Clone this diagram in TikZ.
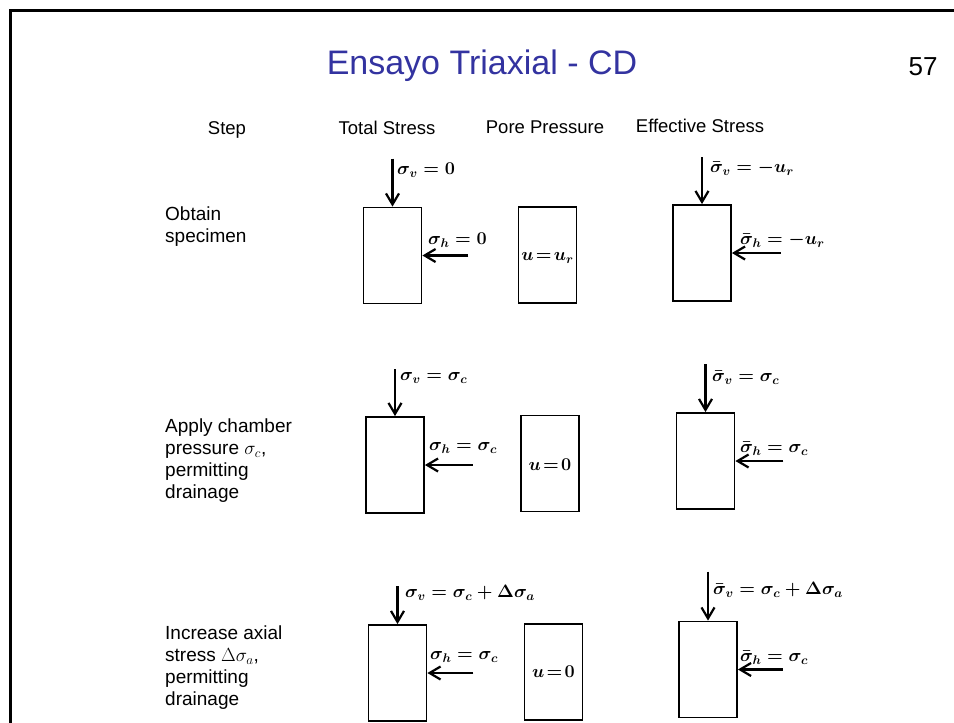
\documentclass[tikz,border=0pt]{standalone}
\usepackage{fix-cm}
\usepackage{amsmath,amssymb}
\usepackage{fontspec}
\setmainfont{Liberation Sans}
\usetikzlibrary{arrows.meta,positioning}
\definecolor{slideblue}{RGB}{51,51,160}

\begin{document}
\begin{tikzpicture}[x=1pt,y=-1pt,
    sample/.style={draw, line width=1.8pt, minimum width=58pt, minimum height=96pt, inner sep=0pt},
    load/.style={line width=2.2pt, -{Straight Barb[length=11pt,width=13pt,line width=2.2pt]}},
    lbl/.style={anchor=west, inner sep=0pt, font=\fontsize{18}{20}\selectfont\boldmath},
    porelbl/.style={inner sep=0pt, font=\fontsize{18}{20}\selectfont\boldmath},
    colhead/.style={font=\fontsize{18.5}{20}\selectfont},
    steptext/.style={anchor=north west, align=left, inner sep=0pt, font=\fontsize{19}{21.7}\selectfont}]
  \useasboundingbox (0,0) rectangle (954,723);
  % slide frame
  \draw[line width=3pt] (10,723) -- (10,10) -- (954,10);
  \node[text=slideblue, font=\fontsize{34}{36}\selectfont] (title) at (482,66) {Ensayo Triaxial - CD};
  \node[font=\fontsize{26}{28}\selectfont] (pagenum) at (923,67) {57};

  % column heads
  \node[colhead] (hstep) at (227,130) {Step};
  \node[colhead] (htotal) at (387,128) {Total Stress};
  \node[colhead] (hpore) at (545,127) {Pore Pressure};
  \node[colhead] (heff) at (700,126) {Effective Stress};

  % Obtain specimen
  \node[steptext] (s1) at (165,207) {Obtain\\specimen};
  \node[sample] (t1) at (392.5,255.5) {};
  \node[sample] (p1) at (547.5,255) {};
  \node[sample] (e1) at (702,253) {};
  \draw[load] ([yshift=48pt]t1.north) -- (t1.north);
  \draw[load] ([xshift=46pt]t1.east) -- (t1.east);
  \draw[load] ([yshift=47pt]e1.north) -- (e1.north);
  \draw[load] ([xshift=49pt]e1.east) -- (e1.east);
  \node[lbl] (t1v) at (397,170) {$\sigma_v = 0$};
  \node[lbl] (t1h) at (428,240) {$\sigma_h = 0$};
  \node[porelbl] (p1u) at (547.5,258) {$u\!=\!u_r$};
  \node[lbl] (e1v) at (710,168) {$\bar{\sigma}_v = -u_r$};
  \node[lbl] (e1h) at (740,240) {$\bar{\sigma}_h = -u_r$};

  % Apply chamber pressure
  \node[steptext] (s2) at (165,419) {Apply chamber\\pressure $\sigma_c$,\\permitting\\drainage};
  \node[sample] (t2) at (395,465) {};
  \node[sample] (p2) at (550,463.5) {};
  \node[sample] (e2) at (705.5,461) {};
  \draw[load] ([yshift=47pt]t2.north) -- (t2.north);
  \draw[load] ([xshift=48pt]t2.east) -- (t2.east);
  \draw[load] ([yshift=48pt]e2.north) -- (e2.north);
  \draw[load] ([xshift=48pt]e2.east) -- (e2.east);
  \node[lbl] (t2v) at (400,378) {$\sigma_v = \sigma_c$};
  \node[lbl] (t2h) at (429,448) {$\sigma_h = \sigma_c$};
  \node[porelbl] (p2u) at (550,465) {$u\!=\!0$};
  \node[lbl] (e2v) at (712,378) {$\bar{\sigma}_v = \sigma_c$};
  \node[lbl] (e2h) at (740,449) {$\bar{\sigma}_h = \sigma_c$};

  % Increase axial stress
  \node[steptext] (s3) at (165,626) {Increase axial\\stress $\Delta\sigma_a$,\\permitting\\drainage};
  \node[sample] (t3) at (397.5,673) {};
  \node[sample] (p3) at (553.5,672) {};
  \node[sample] (e3) at (708,669.5) {};
  \draw[load] ([yshift=38pt]t3.north) -- (t3.north);
  \draw[load] ([xshift=46pt]t3.east) -- (t3.east);
  \draw[load] ([yshift=49pt]e3.north) -- (e3.north);
  \draw[load] ([xshift=45pt]e3.east) -- (e3.east);
  \node[lbl] (t3v) at (405,593) {$\sigma_v = \sigma_c + \Delta\sigma_a$};
  \node[lbl] (t3h) at (430,657) {$\sigma_h = \sigma_c$};
  \node[porelbl] (p3u) at (553.5,672) {$u\!=\!0$};
  \node[lbl] (e3v) at (713,590) {$\bar{\sigma}_v = \sigma_c + \Delta\sigma_a$};
  \node[lbl] (e3h) at (740,658) {$\bar{\sigma}_h = \sigma_c$};
\end{tikzpicture}
\end{document}
